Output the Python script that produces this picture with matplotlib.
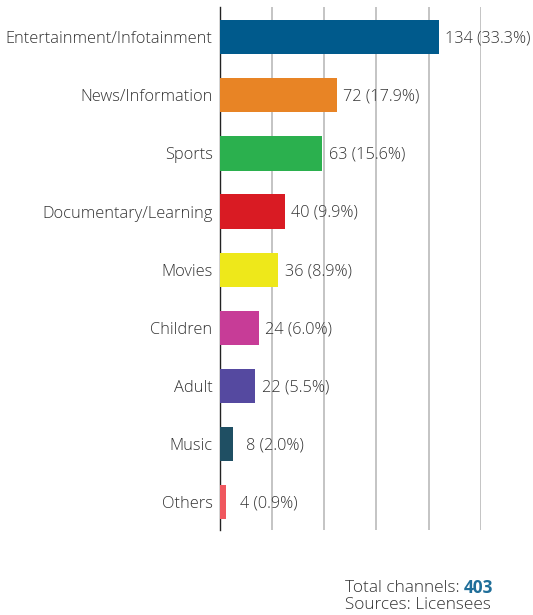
import matplotlib.pyplot as plt

plt.rcParams['font.family'] = ['Open Sans', 'DejaVu Sans']

# Channel genres and counts
genres = ['Entertainment/Infotainment', 'News/Information', 'Sports',
          'Documentary/Learning', 'Movies', 'Children', 'Adult', 'Music', 'Others']
counts = [134, 72, 63, 40, 36, 24, 22, 8, 4]
shares = [33.3, 17.9, 15.6, 9.9, 8.9, 6.0, 5.5, 2.0, 0.9]
colors = ['#005a8c', '#e88425', '#2bb04e', '#d91b23', '#eee81a',
          '#c73c97', '#5549a0', '#1f4f63', '#f0575e']
gridlines = [32, 64, 96, 128, 160]
total = 403

fig = plt.figure(figsize=(5.33, 6.15), dpi=100)
ax = fig.add_axes([219.5 / 533, 1 - 530 / 615, 261.5 / 533, 523 / 615])

ypos = list(range(len(genres)))
ax.barh(ypos, counts, height=0.59, color=colors, zorder=3)

for g in gridlines:
    ax.axvline(g, color='#c4c4c4', lw=1.4, zorder=1)

for y, c, s in zip(ypos, counts, shares):
    # the tiny bars get a little more room, like in the original
    pad = 4.5 if c > 10 else 10
    ax.annotate(f'{c} ({s:.1f}%)', (c, y), xytext=(pad, -1), textcoords='offset points',
                ha='left', va='center', fontsize=11.7, fontweight='light',
                color='#333333', zorder=4)

ax.set_xlim(0, 160)
ax.set_ylim(8.48, -0.52)
ax.set_yticks(ypos)
ax.set_yticklabels(genres, fontsize=11.8, fontweight='light', color='#333333')
ax.tick_params(axis='y', length=0, pad=5)
ax.set_xticks([])
for side in ['top', 'right', 'bottom']:
    ax.spines[side].set_visible(False)
ax.spines['left'].set_color('#222222')
ax.spines['left'].set_linewidth(1.0)

fy = 1 - 588 / 615
t = fig.text(345 / 533, fy, 'Total channels: ', fontsize=12.4, fontweight='light',
             color='#333333', va='center', ha='left')
fig.canvas.draw()
bb = t.get_window_extent()
fig.text(bb.x1 / fig.bbox.width, fy, str(total), fontsize=12.4, color='#1f6e99',
         fontweight='bold', va='center', ha='left')
fig.text(345 / 533, 1 - 605 / 615, 'Sources: Licensees', fontsize=12.4, fontweight='light',
         color='#333333', va='center', ha='left')

fig.savefig('out.png', dpi=100)
